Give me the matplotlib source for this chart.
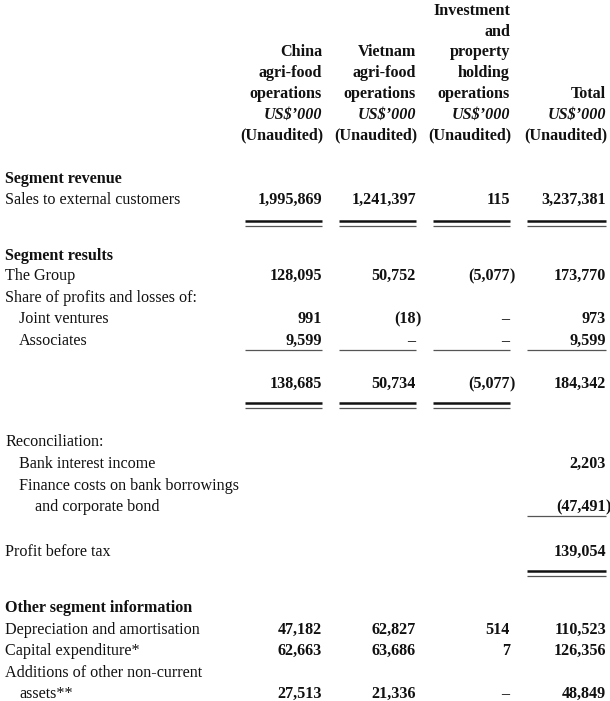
import matplotlib
matplotlib.use("Agg")
import matplotlib.pyplot as plt

# ---------------- data ----------------
col_headers = [
    ["China", "agri-food", "operations"],
    ["Vietnam", "agri-food", "operations"],
    ["Investment", "and", "property", "holding", "operations"],
    ["Total"],
]
unit_label = "US$\u2019000"
audit_label = "(Unaudited)"

sales = [1995869, 1241397, 115, 3237381]
group = [128095, 50752, -5077, 173770]
joint_ventures = [991, -18, None, 973]
associates = [9599, None, None, 9599]
results_total = [138685, 50734, -5077, 184342]
bank_interest_income = [None, None, None, 2203]
finance_costs = [None, None, None, -47491]
profit_before_tax = [None, None, None, 139054]
depreciation = [47182, 62827, 514, 110523]
capex = [62663, 63686, 7, 126356]
additions = [27513, 21336, None, 48849]

# ---------------- layout ----------------
W, H = 610, 701
fig = plt.figure(figsize=(W / 100, H / 100), dpi=100)
ax = fig.add_axes([0, 0, 1, 1])
ax.set_xlim(0, W)
ax.set_ylim(H, 0)
ax.axis("off")

FONT = "Liberation Serif"
FS = 11.6
BASE = 5.0
col_right = [322, 416, 510, 606]
col_left = [245, 339, 433, 527]
header_rows = [10, 31, 51, 72, 93, 114, 134]


def txt(x, y, s, bold=False, italic=False, ha="left"):
    ax.text(x, y + BASE, s, fontsize=FS, family=FONT,
            fontweight="bold" if bold else "normal",
            fontstyle="italic" if italic else "normal",
            ha=ha, va="baseline", color="#111111")


def num(ci, y, v):
    x = col_right[ci]
    if v is None:
        txt(x - 1, y, "\u2013", bold=True, ha="right")
    elif v < 0:
        txt(x, y, "({:,}".format(-v), bold=True, ha="right")
        txt(x, y, ")", bold=True, ha="left")
    else:
        txt(x, y, "{:,}".format(v), bold=True, ha="right")


def values(y, vals):
    for ci, v in enumerate(vals):
        num(ci, y, v)


def single(y, cols):
    for ci in cols:
        ax.plot([col_left[ci], col_right[ci]], [y, y], color="#555555", lw=0.9,
                solid_capstyle="butt")


def double(y, cols):
    for ci in cols:
        ax.plot([col_left[ci], col_right[ci]], [y, y], color="#111111", lw=1.8,
                solid_capstyle="butt")
        ax.plot([col_left[ci], col_right[ci]], [y + 5, y + 5], color="#555555",
                lw=0.9, solid_capstyle="butt")


# headers
for ci, lines in enumerate(col_headers):
    n = len(lines)
    for k, s in enumerate(lines):
        y = header_rows[5 - n + k]
        txt(col_right[ci], y, s, bold=True, ha="right")
    txt(col_right[ci], header_rows[5], unit_label, bold=True, italic=True, ha="right")
    txt(col_right[ci] + 1, header_rows[6], audit_label, bold=True, ha="right")

# body
txt(5, 178, "Segment revenue", bold=True)
txt(5, 199, "Sales to external customers")
values(199, sales)
double(221, range(4))

txt(5, 255, "Segment results", bold=True)
txt(5, 275, "The Group")
values(275, group)
txt(5, 297, "Share of profits and losses of:")
txt(19, 318, "Joint ventures")
values(318, joint_ventures)
txt(19, 340, "Associates")
values(340, associates)
single(350, range(4))
values(383, results_total)
double(403, range(3))

txt(5, 441, "Reconciliation:")
txt(19, 463, "Bank interest income")
num(3, 463, bank_interest_income[3])
txt(19, 485, "Finance costs on bank borrowings")
txt(35, 506, "and corporate bond")
num(3, 506, finance_costs[3])
single(516, [3])

txt(5, 551, "Profit before tax")
num(3, 551, profit_before_tax[3])
double(571, [3])

txt(5, 607, "Other segment information", bold=True)
txt(5, 629, "Depreciation and amortisation")
values(629, depreciation)
txt(5, 650, "Capital expenditure*")
values(650, capex)
txt(5, 672, "Additions of other non-current")
txt(19, 693, "assets**")
values(693, additions)

fig.savefig("out.png", dpi=100, facecolor="white")
